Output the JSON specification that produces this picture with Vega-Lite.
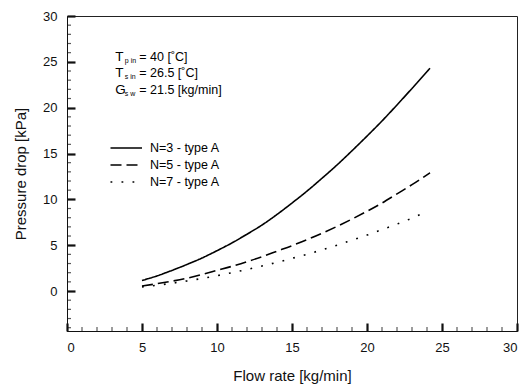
{
  "$schema": "https://vega.github.io/schema/vega-lite/v6.json",
  "width": 450,
  "height": 315,
  "autosize": {"type": "none"},
  "padding": {"left": 67, "top": 16, "right": 11, "bottom": 55},
  "background": "white",
  "config": {
    "view": {"stroke": "#222", "strokeWidth": 1},
    "font": "Liberation Sans",
    "axis": {
      "domainColor": "#111", "tickColor": "#111", "labelColor": "#111", "titleColor": "#111",
      "grid": false, "labelFont": "Liberation Sans", "titleFont": "Liberation Sans",
      "titleFontWeight": "normal", "labelFontSize": 13, "titleFontSize": 15
    }
  },
  "datasets": {
    "curves": [
      {"series": "N=3 - type A", "flow": 5, "dp": 1.15}, {"series": "N=3 - type A", "flow": 6, "dp": 1.65},
      {"series": "N=3 - type A", "flow": 7, "dp": 2.25}, {"series": "N=3 - type A", "flow": 8, "dp": 2.9},
      {"series": "N=3 - type A", "flow": 9, "dp": 3.6}, {"series": "N=3 - type A", "flow": 10, "dp": 4.4},
      {"series": "N=3 - type A", "flow": 11, "dp": 5.25}, {"series": "N=3 - type A", "flow": 12, "dp": 6.2},
      {"series": "N=3 - type A", "flow": 13, "dp": 7.2}, {"series": "N=3 - type A", "flow": 14, "dp": 8.35},
      {"series": "N=3 - type A", "flow": 15, "dp": 9.6}, {"series": "N=3 - type A", "flow": 16, "dp": 10.9},
      {"series": "N=3 - type A", "flow": 17, "dp": 12.3}, {"series": "N=3 - type A", "flow": 18, "dp": 13.75},
      {"series": "N=3 - type A", "flow": 19, "dp": 15.3}, {"series": "N=3 - type A", "flow": 20, "dp": 16.9},
      {"series": "N=3 - type A", "flow": 21, "dp": 18.55}, {"series": "N=3 - type A", "flow": 22, "dp": 20.3},
      {"series": "N=3 - type A", "flow": 23, "dp": 22.1}, {"series": "N=3 - type A", "flow": 24.2, "dp": 24.3},
      {"series": "N=5 - type A", "flow": 5, "dp": 0.55}, {"series": "N=5 - type A", "flow": 6, "dp": 0.8},
      {"series": "N=5 - type A", "flow": 7, "dp": 1.08}, {"series": "N=5 - type A", "flow": 8, "dp": 1.4},
      {"series": "N=5 - type A", "flow": 9, "dp": 1.8}, {"series": "N=5 - type A", "flow": 10, "dp": 2.25},
      {"series": "N=5 - type A", "flow": 11, "dp": 2.7}, {"series": "N=5 - type A", "flow": 12, "dp": 3.2},
      {"series": "N=5 - type A", "flow": 13, "dp": 3.75}, {"series": "N=5 - type A", "flow": 14, "dp": 4.35},
      {"series": "N=5 - type A", "flow": 15, "dp": 4.95}, {"series": "N=5 - type A", "flow": 16, "dp": 5.6},
      {"series": "N=5 - type A", "flow": 17, "dp": 6.3}, {"series": "N=5 - type A", "flow": 18, "dp": 7.05},
      {"series": "N=5 - type A", "flow": 19, "dp": 7.85}, {"series": "N=5 - type A", "flow": 20, "dp": 8.7},
      {"series": "N=5 - type A", "flow": 21, "dp": 9.6}, {"series": "N=5 - type A", "flow": 22, "dp": 10.6},
      {"series": "N=5 - type A", "flow": 23, "dp": 11.6}, {"series": "N=5 - type A", "flow": 24.2, "dp": 12.9},
      {"series": "N=7 - type A", "flow": 5, "dp": 0.45}, {"series": "N=7 - type A", "flow": 6, "dp": 0.63},
      {"series": "N=7 - type A", "flow": 7, "dp": 0.85}, {"series": "N=7 - type A", "flow": 8, "dp": 1.1},
      {"series": "N=7 - type A", "flow": 9, "dp": 1.37}, {"series": "N=7 - type A", "flow": 10, "dp": 1.67},
      {"series": "N=7 - type A", "flow": 11, "dp": 2.0}, {"series": "N=7 - type A", "flow": 12, "dp": 2.35},
      {"series": "N=7 - type A", "flow": 13, "dp": 2.73}, {"series": "N=7 - type A", "flow": 14, "dp": 3.13},
      {"series": "N=7 - type A", "flow": 15, "dp": 3.56}, {"series": "N=7 - type A", "flow": 16, "dp": 4.0},
      {"series": "N=7 - type A", "flow": 17, "dp": 4.5}, {"series": "N=7 - type A", "flow": 18, "dp": 5.0},
      {"series": "N=7 - type A", "flow": 19, "dp": 5.55}, {"series": "N=7 - type A", "flow": 20, "dp": 6.1},
      {"series": "N=7 - type A", "flow": 21, "dp": 6.7}, {"series": "N=7 - type A", "flow": 22, "dp": 7.3},
      {"series": "N=7 - type A", "flow": 23, "dp": 7.95}, {"series": "N=7 - type A", "flow": 23.7, "dp": 8.45}
    ],
    "legend": [
      {"series": "N=3 - type A", "flow": 2.9, "flow2": 5.0, "dp": 15.6},
      {"series": "N=5 - type A", "flow": 2.9, "flow2": 5.0, "dp": 13.75},
      {"series": "N=7 - type A", "flow": 2.9, "flow2": 5.0, "dp": 11.9}
    ],
    "notes": [
      {"main": "T", "sub": "p in", "rest": "= 40 [˚C]", "dp": 25.5},
      {"main": "T", "sub": "s in", "rest": "= 26.5 [˚C]", "dp": 23.8},
      {"main": "G", "sub": "s w", "rest": "= 21.5 [kg/min]", "dp": 21.95}
    ],
    "minorx": [
      {"flow": 1}, {"flow": 2}, {"flow": 3}, {"flow": 4}, {"flow": 6}, {"flow": 7}, {"flow": 8}, {"flow": 9},
      {"flow": 11}, {"flow": 12}, {"flow": 13}, {"flow": 14}, {"flow": 16}, {"flow": 17}, {"flow": 18}, {"flow": 19},
      {"flow": 21}, {"flow": 22}, {"flow": 23}, {"flow": 24}, {"flow": 26}, {"flow": 27}, {"flow": 28}, {"flow": 29}
    ],
    "minory": [
      {"dp": -4}, {"dp": -3}, {"dp": -2}, {"dp": -1}, {"dp": 1}, {"dp": 2}, {"dp": 3}, {"dp": 4},
      {"dp": 6}, {"dp": 7}, {"dp": 8}, {"dp": 9}, {"dp": 11}, {"dp": 12}, {"dp": 13}, {"dp": 14},
      {"dp": 16}, {"dp": 17}, {"dp": 18}, {"dp": 19}, {"dp": 21}, {"dp": 22}, {"dp": 23}, {"dp": 24},
      {"dp": 26}, {"dp": 27}, {"dp": 28}, {"dp": 29}
    ]
  },
  "layer": [
    {
      "data": {"name": "curves"},
      "mark": {"type": "line", "interpolate": "monotone", "color": "#000", "strokeWidth": 1.6},
      "encoding": {
        "x": {"field": "flow", "type": "quantitative",
          "scale": {"domain": [0, 30], "nice": false, "zero": false},
          "axis": {"title": "Flow rate [kg/min]", "values": [0, 5, 10, 15, 20, 25, 30], "tickSize": -8, "tickWidth": 2.2, "labelPadding": 18, "titlePadding": 14}},
        "y": {"field": "dp", "type": "quantitative",
          "scale": {"domain": [-4.36, 30], "nice": false, "zero": false},
          "axis": {"title": "Pressure drop [kPa]", "values": [0, 5, 10, 15, 20, 25, 30], "tickSize": -8, "tickWidth": 2.2, "labelPadding": 18, "titlePadding": 14}},
        "detail": {"field": "series"},
        "strokeDash": {"field": "series", "type": "nominal",
          "scale": {"domain": ["N=3 - type A", "N=5 - type A", "N=7 - type A"], "range": [[1, 0], [11, 5], [1.8, 9.2]]},
          "legend": null}
      }
    },
    {
      "data": {"name": "legend"},
      "mark": {"type": "rule", "color": "#000", "strokeWidth": 1.6},
      "encoding": {
        "x": {"field": "flow", "type": "quantitative"},
        "x2": {"field": "flow2"},
        "y": {"field": "dp", "type": "quantitative"},
        "strokeDash": {"field": "series", "type": "nominal", "legend": null}
      }
    },
    {
      "data": {"name": "legend"},
      "mark": {"type": "text", "align": "left", "baseline": "middle", "fontSize": 12.5, "color": "#000", "dx": 8},
      "encoding": {
        "x": {"field": "flow2", "type": "quantitative"},
        "y": {"field": "dp", "type": "quantitative"},
        "text": {"field": "series"}
      }
    },
    {
      "data": {"name": "notes"},
      "mark": {"type": "text", "align": "left", "baseline": "middle", "fontSize": 13.5, "color": "#000"},
      "encoding": {
        "x": {"datum": 3.22},
        "y": {"field": "dp", "type": "quantitative"},
        "text": {"field": "main"}
      }
    },
    {
      "data": {"name": "notes"},
      "mark": {"type": "text", "align": "left", "baseline": "middle", "fontSize": 7, "color": "#000", "dx": 9.5, "dy": 4},
      "encoding": {
        "x": {"datum": 3.22},
        "y": {"field": "dp", "type": "quantitative"},
        "text": {"field": "sub"}
      }
    },
    {
      "data": {"name": "notes"},
      "mark": {"type": "text", "align": "left", "baseline": "middle", "fontSize": 12.5, "color": "#000", "dx": 24},
      "encoding": {
        "x": {"datum": 3.22},
        "y": {"field": "dp", "type": "quantitative"},
        "text": {"field": "rest"}
      }
    },
    {
      "data": {"name": "minorx"},
      "mark": {"type": "tick", "orient": "vertical", "size": 8, "thickness": 1.2, "color": "#111", "clip": true},
      "encoding": {
        "x": {"field": "flow", "type": "quantitative"},
        "y": {"datum": -4.36}
      }
    },
    {
      "data": {"name": "minory"},
      "mark": {"type": "tick", "orient": "horizontal", "size": 8, "thickness": 1.2, "color": "#111", "clip": true},
      "encoding": {
        "y": {"field": "dp", "type": "quantitative"},
        "x": {"datum": 0}
      }
    }
  ]
}
